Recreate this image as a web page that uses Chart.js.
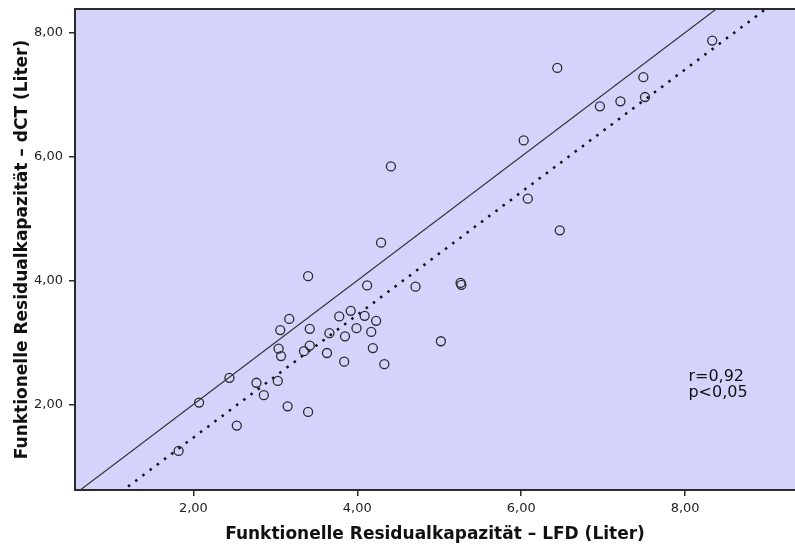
<!DOCTYPE html>
<html>
<head>
<meta charset="utf-8">
<script src="https://cdn.jsdelivr.net/npm/chart.js@4/dist/chart.umd.min.js"></script>
<style>
  html, body { margin: 0; padding: 0; background: #fff; }
</style>
</head>
<body>
<canvas id="frcChart" width="795" height="547"></canvas>
<script>
// --- Data ---
const lfdValues = [
    1.82, 2.07, 2.44, 2.53, 2.77, 2.86,
    3.40, 4.12, 4.71, 5.26, 5.27, 3.17, 3.06, 3.42, 3.04, 3.07, 3.35, 3.42,
    3.66, 3.63, 3.78, 3.92, 4.09, 4.23, 3.99, 3.85, 4.17, 4.19, 3.84, 4.33,
    5.02, 3.03, 3.15, 3.40,
    4.41, 4.29, 6.03, 6.08, 6.44, 7.49, 6.96, 7.21, 7.51, 8.33, 6.47
];
const dctValues = [
    1.25, 2.03, 2.43, 1.66, 2.35, 2.15,
    4.07, 3.92, 3.90, 3.96, 3.93, 3.38, 3.20, 3.22, 2.90, 2.78, 2.86, 2.95,
    3.15, 2.83, 3.42, 3.51, 3.43, 3.35, 3.23, 3.10, 3.17, 2.91, 2.69, 2.65,
    3.02, 2.38, 1.97, 1.88,
    5.84, 4.61, 6.26, 5.32, 7.43, 7.28, 6.81, 6.89, 6.96, 7.87, 4.81
];

// identity line and fitted line end points
const identityX = [0.0, 10.0];
const identityY = [0.0, 10.0];
const fitX = [0.5, 9.5];
const fitY = [-0.02, 8.89];

const tickValues = [2, 4, 6, 8];
const xRange = [0.556, 9.34];
const yRange = [0.62, 8.38];

const statLines = ['r=0,92', 'p<0,05'];

const xTitle = 'Funktionelle Residualkapazität \u2013 LFD (Liter)';
const yTitle = 'Funktionelle Residualkapazität \u2013 dCT (Liter)';

// --- helpers ---
const toPoints = (xs, ys) => xs.map((x, i) => ({ x: x, y: ys[i] }));
const fmt = v => Number(v).toFixed(2).replace('.', ',');
const fixTicks = scale => { scale.ticks = tickValues.map(v => ({ value: v })); };

// background of plot area + top frame line
const plotBackground = {
    id: 'plotBackground',
    beforeDraw(chart) {
        const { ctx, chartArea } = chart;
        ctx.save();
        ctx.fillStyle = '#d3d3fc';
        ctx.fillRect(chartArea.left, chartArea.top, chartArea.right - chartArea.left, chartArea.bottom - chartArea.top);
        ctx.strokeStyle = '#2a2a2a';
        ctx.lineWidth = 2;
        ctx.beginPath();
        ctx.moveTo(chartArea.left, chartArea.top);
        ctx.lineTo(chartArea.right, chartArea.top);
        ctx.stroke();
        ctx.restore();
    }
};

// r / p annotation
const statText = {
    id: 'statText',
    afterDraw(chart) {
        const { ctx } = chart;
        const x = chart.scales.x.getPixelForValue(8.04);
        const y = chart.scales.y.getPixelForValue(2.44);
        ctx.save();
        ctx.fillStyle = '#111';
        ctx.font = '16px "DejaVu Sans"';
        ctx.textBaseline = 'middle';
        ctx.textAlign = 'left';
        statLines.forEach((t, i) => ctx.fillText(t, x, y + i * 16));
        ctx.restore();
    }
};

const ctx = document.getElementById('frcChart');
new Chart(ctx.getContext('2d'), {
    type: 'scatter',
    data: {
        datasets: [
            {
                label: 'Messwerte',
                data: toPoints(lfdValues, dctValues),
                pointRadius: 4.5,
                pointBorderWidth: 1.3,
                pointBorderColor: '#2a2a2a',
                pointBackgroundColor: 'rgba(0,0,0,0)',
                order: 0
            },
            {
                label: 'Identität',
                data: toPoints(identityX, identityY),
                showLine: true,
                pointRadius: 0,
                borderColor: '#333',
                borderWidth: 1.2,
                clip: 0,
                order: 1
            },
            {
                label: 'Regression',
                data: toPoints(fitX, fitY),
                showLine: true,
                pointRadius: 0,
                borderColor: '#111',
                borderWidth: 2.5,
                borderDash: [2.5, 6.5],
                clip: 0,
                order: 2
            }
        ]
    },
    options: {
        responsive: false,
        animation: false,
        events: [],
        layout: { autoPadding: false, padding: { top: 9, right: 0, left: 0, bottom: 0 } },
        plugins: {
            legend: { display: false },
            tooltip: { enabled: false }
        },
        scales: {
            x: {
                type: 'linear',
                min: xRange[0],
                max: xRange[1],
                afterBuildTicks: fixTicks,
                afterFit(scale) {
                    scale.height = 57;
                    scale.paddingLeft = 0;
                    scale.paddingRight = 0;
                },
                grid: { display: true, drawOnChartArea: false, drawTicks: true, tickLength: 6, color: '#2a2a2a', lineWidth: 1.5 },
                border: { display: true, color: '#2a2a2a', width: 2 },
                ticks: {
                    padding: 5,
                    color: '#222',
                    font: { family: 'DejaVu Sans', size: 13 },
                    maxRotation: 0,
                    callback: v => fmt(v)
                },
                title: {
                    display: true,
                    text: xTitle,
                    color: '#111',
                    padding: { top: 0, bottom: 2 },
                    font: { family: 'DejaVu Sans', size: 17, weight: 'bold' }
                }
            },
            y: {
                type: 'linear',
                min: yRange[0],
                max: yRange[1],
                afterBuildTicks: fixTicks,
                afterFit(scale) {
                    scale.width = 75;
                    scale.paddingTop = 0;
                    scale.paddingBottom = 0;
                },
                grid: { display: true, drawOnChartArea: false, drawTicks: true, tickLength: 6, color: '#2a2a2a', lineWidth: 1.5 },
                border: { display: true, color: '#2a2a2a', width: 2 },
                ticks: {
                    padding: 6,
                    color: '#222',
                    font: { family: 'DejaVu Sans', size: 13 },
                    callback: v => fmt(v)
                },
                title: {
                    display: true,
                    text: yTitle,
                    color: '#111',
                    padding: { top: 12, bottom: 0 },
                    font: { family: 'DejaVu Sans', size: 17, weight: 'bold' }
                }
            }
        }
    },
    plugins: [plotBackground, statText]
});
</script>
</body>
</html>
